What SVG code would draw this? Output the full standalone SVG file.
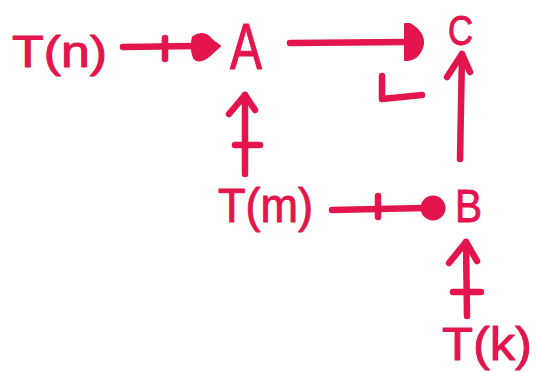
<svg xmlns="http://www.w3.org/2000/svg" width="537" height="372" viewBox="0 0 537 372">
<style>
.lbl{font-family:"Liberation Sans",Arial,sans-serif;fill:#e3154c;stroke:#e3154c;stroke-width:1;stroke-linejoin:round}
.ln{fill:none;stroke:#e3154c;stroke-width:6.5;stroke-linecap:round;stroke-linejoin:round}
.hd{fill:#e3154c;stroke:#e3154c;stroke-width:2;stroke-linejoin:round}
</style>
<rect width="537" height="372" fill="#ffffff"/>
<g id="node-Tn"><text class="lbl" x="12" y="67" font-size="44" textLength="95" lengthAdjust="spacingAndGlyphs">T(n)</text></g>
<g id="node-A"><text class="lbl" x="230" y="69" font-size="64" textLength="32" lengthAdjust="spacingAndGlyphs">A</text></g>
<g id="node-C"><text class="lbl" x="448" y="45" font-size="42" textLength="25" lengthAdjust="spacingAndGlyphs">C</text></g>
<g id="node-Tm"><text class="lbl" x="218" y="222" font-size="48" textLength="95" lengthAdjust="spacingAndGlyphs">T(m)</text></g>
<g id="node-B"><text class="lbl" x="455" y="222" font-size="47" textLength="27" lengthAdjust="spacingAndGlyphs">B</text></g>
<g id="node-Tk"><text class="lbl" x="442" y="360" font-size="46" textLength="90" lengthAdjust="spacingAndGlyphs">T(k)</text></g>
<g id="connectors">
  <line class="ln" x1="123" y1="47" x2="196" y2="46"/>
  <line class="ln" x1="165" y1="38" x2="165" y2="59"/>
  <path class="hd" d="M193,37 Q204,30 212,40 L220,46 L209,56 Q199,64 194,58 Q190,48 193,37 Z"/>
  <line class="ln" x1="290" y1="43" x2="407" y2="42"/>
  <path class="hd" d="M405,24 L410,24 Q424,32 423,44 Q420,58 408,60 L405,60 Z"/>
  <polyline class="ln" points="382,76 382,99 422,95"/>
  <line class="ln" x1="245" y1="95" x2="245" y2="174"/>
  <polyline class="ln" points="229,114 245,95 255,110"/>
  <line class="ln" x1="235" y1="145" x2="260" y2="145"/>
  <line class="ln" x1="462" y1="54" x2="460" y2="159"/>
  <polyline class="ln" points="447,77 462,54 470,72"/>
  <line class="ln" x1="332" y1="210" x2="424" y2="208"/>
  <line class="ln" x1="378" y1="196" x2="378" y2="217"/>
  <circle class="hd" cx="433" cy="208" r="11.5"/>
  <line class="ln" x1="466" y1="242" x2="467" y2="316"/>
  <polyline class="ln" points="449,263 466,242 477,261"/>
  <line class="ln" x1="453" y1="292" x2="481" y2="292"/>
</g>
</svg>
